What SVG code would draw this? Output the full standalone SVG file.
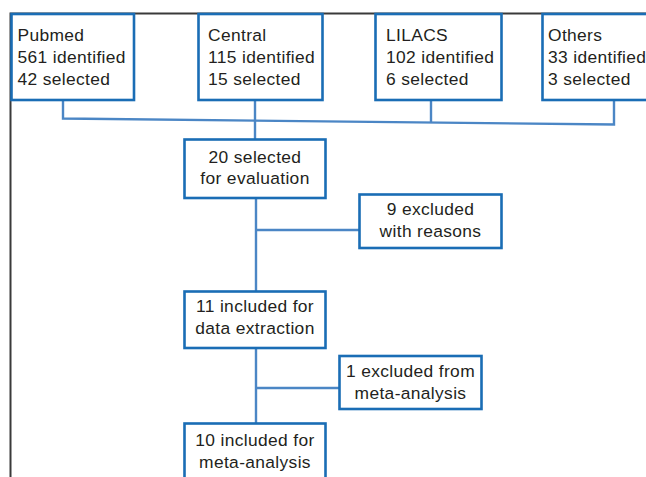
<svg xmlns="http://www.w3.org/2000/svg" width="646" height="477" viewBox="0 0 646 477">
<style>
.frame{fill:none;stroke:#3a3a3a;stroke-width:2}
.box{fill:#fff;stroke:#1a6db5;stroke-width:2.6}
.conn{fill:none;stroke:#4b86c5;stroke-width:2.4}
text{font-family:"Liberation Sans",Arial,sans-serif;font-size:17.4px;letter-spacing:0.35px;fill:#231f20}
.c{text-anchor:middle}
</style>
<rect width="646" height="477" fill="#fff"/>
<path class="frame" d="M10.5 477 V13.5 H646"/>
<g id="connectors">
<path class="conn" d="M63 100 V118.5 L614 124.5 V100"/>
<path class="conn" d="M431 100 V123"/>
<path class="conn" d="M255 100 V139"/>
<path class="conn" d="M256 198 V291"/>
<path class="conn" d="M256 230 H359"/>
<path class="conn" d="M256 348 V423"/>
<path class="conn" d="M256 388 H339"/>
</g>
<g id="pubmed">
<rect class="box" x="11.5" y="14" width="122.5" height="86"/>
<text x="17.5" y="40.7">Pubmed</text>
<text x="17.5" y="63">561 identified</text>
<text x="17.5" y="85">42 selected</text>
</g>
<g id="central">
<rect class="box" x="198.5" y="14" width="124" height="86"/>
<text x="208" y="40.7">Central</text>
<text x="208" y="63">115 identified</text>
<text x="208" y="85">15 selected</text>
</g>
<g id="lilacs">
<rect class="box" x="375.5" y="14" width="126" height="86"/>
<text x="386" y="40.7">LILACS</text>
<text x="386" y="63">102 identified</text>
<text x="386" y="85">6 selected</text>
</g>
<g id="others">
<rect class="box" x="542.5" y="14" width="110" height="86"/>
<text x="548" y="40.7">Others</text>
<text x="548" y="63">33 identified</text>
<text x="548" y="85">3 selected</text>
</g>
<g id="evaluation">
<rect class="box" x="184.5" y="139.5" width="141" height="58.5"/>
<text class="c" x="255" y="162.5">20 selected</text>
<text class="c" x="255" y="184">for evaluation</text>
</g>
<g id="excluded9">
<rect class="box" x="359.5" y="194.5" width="142" height="53.5"/>
<text class="c" x="430.5" y="215">9 excluded</text>
<text class="c" x="430.5" y="237">with reasons</text>
</g>
<g id="included11">
<rect class="box" x="184.5" y="291.5" width="141" height="56.5"/>
<text class="c" x="255" y="312">11 included for</text>
<text class="c" x="255" y="333.5">data extraction</text>
</g>
<g id="excluded1">
<rect class="box" x="339.5" y="356" width="142" height="53"/>
<text class="c" x="410.5" y="376.5">1 excluded from</text>
<text class="c" x="410.5" y="398.5">meta-analysis</text>
</g>
<g id="included10">
<rect class="box" x="184.5" y="423.5" width="141" height="60"/>
<text class="c" x="255" y="446">10 included for</text>
<text class="c" x="255" y="467.5">meta-analysis</text>
</g>
</svg>
